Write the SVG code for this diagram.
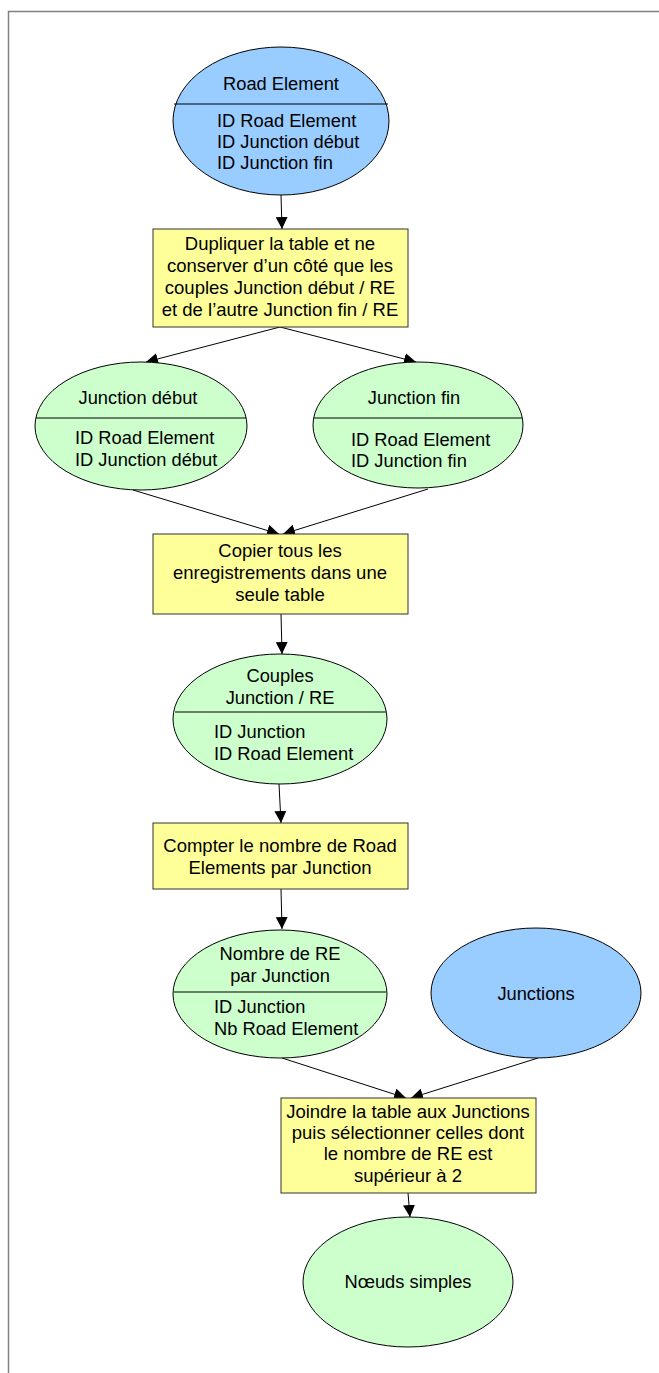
<svg xmlns="http://www.w3.org/2000/svg" width="659" height="1373" viewBox="0 0 659 1373">
  <style>
    text { font-family: "Liberation Sans", Arial, sans-serif; fill: #000; }
    .box { fill: #FFFF99; stroke: #333; stroke-width: 1; }
    .src { fill: #99CCFF; stroke: #000; stroke-width: 1; }
    .tbl { fill: #CCFFCC; stroke: #000; stroke-width: 1; }
    .sep { stroke: #000; stroke-width: 1; }
    .bt { font-size: 18.5px; text-anchor: middle; }
    .et { font-size: 18.3px; }
    .ec { font-size: 18.3px; text-anchor: middle; }
    .edge { stroke: #000; stroke-width: 1; fill: none; marker-end: url(#arrow); }
  </style>
  <defs>
    <marker id="arrow" markerUnits="userSpaceOnUse" markerWidth="12" markerHeight="12" viewBox="0 0 12 12" refX="12" refY="6" orient="auto">
      <path d="M0,0 L12,6 L0,12 z" fill="#000"/>
    </marker>
  </defs>

  <rect x="8.5" y="11.5" width="700" height="1400" fill="#fff" stroke="#808080" stroke-width="1.5"/>

  <g id="connectors">
    <line class="edge" x1="281" y1="195" x2="282" y2="229"/>
    <line class="edge" x1="280" y1="327" x2="146" y2="362"/>
    <line class="edge" x1="280" y1="327" x2="416" y2="362"/>
    <line class="edge" x1="133" y1="490" x2="279" y2="534"/>
    <line class="edge" x1="428" y1="489" x2="283" y2="534"/>
    <line class="edge" x1="281" y1="614" x2="282" y2="654"/>
    <line class="edge" x1="279" y1="784" x2="281" y2="823"/>
    <line class="edge" x1="281" y1="889" x2="282" y2="929"/>
    <line class="edge" x1="282" y1="1058" x2="406" y2="1098"/>
    <line class="edge" x1="538" y1="1058" x2="411" y2="1098"/>
    <line class="edge" x1="408" y1="1193" x2="410" y2="1217"/>
  </g>

  <g id="road-element">
    <ellipse class="src" cx="281" cy="121" rx="108" ry="74"/>
    <line class="sep" x1="174" y1="104" x2="388" y2="104"/>
    <text class="ec" x="281" y="90">Road Element</text>
    <text class="et" x="217" y="127">ID Road Element</text>
    <text class="et" x="217" y="148">ID Junction début</text>
    <text class="et" x="217" y="169">ID Junction fin</text>
  </g>

  <g id="dupliquer">
    <rect class="box" x="153" y="229" width="255" height="98"/>
    <text class="bt" x="280" y="250">Dupliquer la table et ne</text>
    <text class="bt" x="280" y="272">conserver d’un côté que les</text>
    <text class="bt" x="280" y="294">couples Junction début / RE</text>
    <text class="bt" x="280" y="316">et de l’autre Junction fin / RE</text>
  </g>

  <g id="junction-debut">
    <ellipse class="tbl" cx="141" cy="426" rx="106" ry="64"/>
    <line class="sep" x1="36" y1="418" x2="246" y2="418"/>
    <text class="ec" x="138" y="404">Junction début</text>
    <text class="et" x="75" y="444">ID Road Element</text>
    <text class="et" x="75" y="466">ID Junction début</text>
  </g>

  <g id="junction-fin">
    <ellipse class="tbl" cx="418" cy="425" rx="105" ry="63"/>
    <line class="sep" x1="314" y1="418" x2="522" y2="418"/>
    <text class="ec" x="414" y="404">Junction fin</text>
    <text class="et" x="351" y="446">ID Road Element</text>
    <text class="et" x="351" y="467">ID Junction fin</text>
  </g>

  <g id="copier">
    <rect class="box" x="153" y="534" width="255" height="80"/>
    <text class="bt" x="280" y="557">Copier tous les</text>
    <text class="bt" x="280" y="579">enregistrements dans une</text>
    <text class="bt" x="280" y="601">seule table</text>
  </g>

  <g id="couples">
    <ellipse class="tbl" cx="280" cy="719" rx="107" ry="65"/>
    <line class="sep" x1="175" y1="712" x2="386" y2="712"/>
    <text class="ec" x="280" y="682">Couples</text>
    <text class="ec" x="280" y="704">Junction / RE</text>
    <text class="et" x="214" y="738">ID Junction</text>
    <text class="et" x="214" y="760">ID Road Element</text>
  </g>

  <g id="compter">
    <rect class="box" x="153" y="823" width="255" height="66"/>
    <text class="bt" x="280" y="852">Compter le nombre de Road</text>
    <text class="bt" x="280" y="874">Elements par Junction</text>
  </g>

  <g id="nombre-re">
    <ellipse class="tbl" cx="280" cy="994" rx="107" ry="64"/>
    <line class="sep" x1="174" y1="992" x2="386" y2="992"/>
    <text class="ec" x="280" y="960">Nombre de RE</text>
    <text class="ec" x="280" y="982">par Junction</text>
    <text class="et" x="214" y="1013">ID Junction</text>
    <text class="et" x="214" y="1035">Nb Road Element</text>
  </g>

  <g id="junctions">
    <ellipse class="src" cx="536" cy="993" rx="105" ry="65"/>
    <text class="ec" x="536" y="1000">Junctions</text>
  </g>

  <g id="joindre">
    <rect class="box" x="281" y="1098" width="255" height="95"/>
    <text class="bt" x="408" y="1118">Joindre la table aux Junctions</text>
    <text class="bt" x="408" y="1139">puis sélectionner celles dont</text>
    <text class="bt" x="408" y="1160">le nombre de RE est</text>
    <text class="bt" x="408" y="1182">supérieur à 2</text>
  </g>

  <g id="noeuds-simples">
    <ellipse class="tbl" cx="408" cy="1282" rx="105" ry="65"/>
    <text class="ec" x="408" y="1288">Nœuds simples</text>
  </g>
</svg>
